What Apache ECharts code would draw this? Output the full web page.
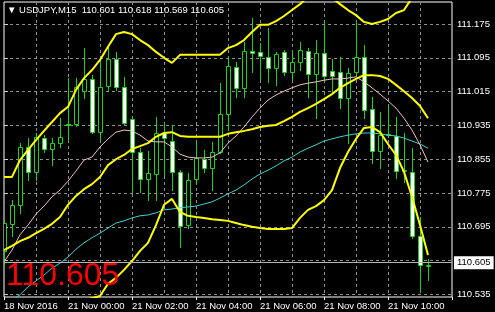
<!DOCTYPE html>
<html><head><meta charset="utf-8">
<script src="https://cdn.jsdelivr.net/npm/echarts@6/dist/echarts.min.js"></script>
<style>html,body{margin:0;padding:0;background:#000;}#c{width:495px;height:312px;}</style>
</head><body><div id="c"></div>
<script>
const symbolName = 'USDJPY,M15';
const opens  = [110.638,110.702,110.747,110.884,110.825,110.905,110.879,110.893,110.938,110.938,111.016,111.045,110.919,111.028,111.092,111.026,110.950,110.872,110.808,110.820,110.917,110.898,110.825,110.699,110.808,110.856,110.834,110.872,110.962,111.073,111.024,111.111,111.109,111.097,111.071,111.109,111.061,111.085,111.111,111.057,111.106,111.064,111.061,110.999,111.061,111.097,110.974,110.874,110.912,110.910,110.827,110.825,110.673,110.601];
const highs  = [110.708,110.758,110.893,110.905,110.917,110.912,110.905,110.953,111.047,111.047,111.118,111.054,111.095,111.121,111.109,111.050,110.955,110.882,110.874,110.955,110.943,110.936,110.829,110.822,110.900,110.877,110.896,111.035,111.097,111.085,111.132,111.189,111.130,111.166,111.109,111.114,111.109,111.132,111.118,111.137,111.180,111.092,111.097,111.071,111.180,111.125,111.002,110.967,110.983,110.955,110.917,110.882,110.718,110.618];
const lows   = [110.602,110.673,110.728,110.806,110.806,110.872,110.841,110.884,110.900,110.934,111.000,110.917,110.900,111.019,111.019,110.938,110.777,110.777,110.758,110.758,110.818,110.782,110.647,110.692,110.801,110.825,110.782,110.870,110.924,111.002,111.002,111.061,111.045,111.038,111.031,111.054,111.043,111.066,111.002,110.953,111.038,111.014,110.976,110.893,111.054,110.953,110.846,110.834,110.907,110.810,110.801,110.668,110.541,110.569];
const closes = [110.704,110.747,110.884,110.825,110.908,110.879,110.893,110.908,110.936,111.026,111.045,110.919,111.026,111.092,111.026,110.941,110.872,110.808,110.822,110.917,110.905,110.825,110.697,110.806,110.858,110.834,110.872,110.962,111.076,111.024,111.111,111.106,111.099,111.071,111.104,111.061,111.085,111.114,111.057,111.106,111.052,111.052,110.999,111.059,111.097,110.971,110.874,110.912,110.915,110.827,110.829,110.673,110.605,110.605];

const bbUpper  = [110.813,110.813,110.853,110.877,110.900,110.922,110.943,110.964,110.979,111.019,111.047,111.066,111.090,111.121,111.151,111.156,111.151,111.137,111.125,111.109,111.095,111.083,111.102,111.102,111.102,111.102,111.102,111.102,111.118,111.125,111.137,111.156,111.173,111.173,111.182,111.194,111.208,111.222,111.239,111.246,111.246,111.237,111.222,111.208,111.196,111.180,111.175,111.180,111.187,111.201,111.208,111.237,111.260,111.277];
const bbMiddle = [110.640,110.650,110.661,110.669,110.680,110.690,110.702,110.718,110.747,110.768,110.784,110.796,110.813,110.841,110.855,110.865,110.879,110.886,110.893,110.908,110.917,110.919,110.910,110.908,110.908,110.908,110.908,110.908,110.915,110.919,110.922,110.926,110.931,110.934,110.936,110.945,110.955,110.967,110.976,110.986,110.997,111.009,111.024,111.035,111.045,111.054,111.054,111.052,111.045,111.031,111.016,111.000,110.981,110.952];
const bbLower  = [110.467,110.486,110.470,110.460,110.460,110.458,110.460,110.472,110.515,110.517,110.522,110.526,110.531,110.560,110.574,110.593,110.614,110.638,110.657,110.699,110.747,110.761,110.730,110.721,110.718,110.716,110.713,110.711,110.709,110.704,110.699,110.695,110.692,110.690,110.690,110.690,110.692,110.716,110.735,110.744,110.758,110.782,110.834,110.872,110.903,110.929,110.931,110.919,110.891,110.865,110.825,110.766,110.699,110.628];
const maPink   = [110.612,110.640,110.676,110.699,110.725,110.744,110.766,110.782,110.803,110.827,110.853,110.860,110.884,110.903,110.919,110.924,110.922,110.912,110.898,110.896,110.896,110.884,110.867,110.860,110.858,110.858,110.860,110.870,110.893,110.910,110.931,110.955,110.976,110.995,111.007,111.016,111.024,111.031,111.035,111.038,111.042,111.045,111.045,111.047,111.050,111.038,111.024,111.009,110.993,110.976,110.952,110.924,110.889,110.848];
const maCyan   = [110.510,110.522,110.534,110.553,110.567,110.581,110.597,110.609,110.623,110.642,110.657,110.669,110.680,110.692,110.704,110.709,110.716,110.721,110.723,110.728,110.735,110.737,110.740,110.742,110.744,110.749,110.754,110.763,110.773,110.782,110.794,110.808,110.820,110.829,110.839,110.851,110.860,110.872,110.881,110.889,110.898,110.903,110.908,110.912,110.915,110.917,110.917,110.915,110.912,110.910,110.905,110.898,110.891,110.881];

const priceTicks = [110.535,110.615,110.695,110.775,110.855,110.935,111.015,111.095,111.175];
const timeTicks  = [0,8,16,24,32,40,48];
const timeLabels = ['18 Nov 2016','21 Nov 00:00','21 Nov 02:00','21 Nov 04:00','21 Nov 06:00','21 Nov 08:00','21 Nov 10:00'];

const green = '#1ed21e';
const FONT = 'Liberation Sans';
const last = opens.length - 1;
const candleData = opens.map((o,i)=>[i,o,highs[i],lows[i],closes[i]]);
const lineData = arr => arr.map((v,i)=>[i,v]);
const fmt = v => v.toFixed(3);

const chart = echarts.init(document.getElementById('c'), null, {renderer:'canvas', width:495, height:312});

function renderCandle(params, api){
  const i = api.value(0), o = api.value(1), h = api.value(2), l = api.value(3), c = api.value(4);
  const pO = api.coord([i,o]), pC = api.coord([i,c]), pH = api.coord([i,h]), pL = api.coord([i,l]);
  const x = Math.round(pO[0]);
  const yT = Math.round(Math.min(pO[1],pC[1])), yB = Math.round(Math.max(pO[1],pC[1]));
  const bull = c >= o;
  return {type:'group', children:[
    {type:'line', shape:{x1:x+0.5, y1:Math.round(pH[1]), x2:x+0.5, y2:Math.round(pL[1])+1}, style:{stroke:green, lineWidth:1}},
    {type:'rect', shape:{x:x-1.5, y:yT+0.5, width:4, height:Math.max(yB-yT,0)}, style:{fill: bull ? '#000' : '#fff', stroke:green, lineWidth:1}}
  ]};
}

const gridLine = {color:'#8e8e8e', type:[3,3], width:1};

const option = {
  backgroundColor:'#000',
  animation:false,
  grid:{left:4, right:43, top:2, bottom:15, show:true, borderColor:'#ffffff', borderWidth:1, backgroundColor:'#000'},
  xAxis:[
    {type:'value', min:0, max:56, interval:8, position:'bottom',
     axisLine:{show:false},
     axisTick:{show:true, length:3, lineStyle:{color:'#ffffff'}},
     axisLabel:{color:'#ffffff', fontSize:9.5, fontFamily:FONT, align:'left', margin:4,
       formatter: v => { const k = timeTicks.indexOf(v); return k >= 0 ? timeLabels[k] : ''; }},
     splitLine:{show:false}},
    {type:'value', min:0, max:56, interval:4, position:'top',
     axisLine:{show:false}, axisTick:{show:false}, axisLabel:{show:false},
     splitLine:{show:true, showMinLine:false, showMaxLine:false, lineStyle:gridLine}}
  ],
  yAxis:{type:'value', position:'right', min:110.5288, max:111.2271,
    axisLine:{show:false},
    axisTick:{show:true, length:4, customValues:priceTicks, lineStyle:{color:'#d0d0d0'}},
    axisLabel:{customValues:priceTicks, color:'#ffffff', fontSize:9.5, fontFamily:FONT, margin:5, formatter: fmt},
    splitLine:{show:true, lineStyle:gridLine}},
  series:[
    {type:'custom', name:'candles', xAxisIndex:0, renderItem:renderCandle, data:candleData, clip:true, z:2,
     encode:{x:0, y:[1,2,3,4]}},
    {type:'line', name:'MA long', data:lineData(maCyan), showSymbol:false, clip:true, z:3, lineStyle:{color:'#40d0d0', width:1}},
    {type:'line', name:'MA short', data:lineData(maPink), showSymbol:false, clip:true, z:3, lineStyle:{color:'#f0c0c8', width:1}},
    {type:'line', name:'BB upper', data:lineData(bbUpper), showSymbol:false, clip:true, z:4, lineStyle:{color:'#ffff00', width:2}},
    {type:'line', name:'BB middle', data:lineData(bbMiddle), showSymbol:false, clip:true, z:4, lineStyle:{color:'#ffff00', width:2}},
    {type:'line', name:'BB lower', data:lineData(bbLower), showSymbol:false, clip:true, z:4, lineStyle:{color:'#ffff00', width:2}},
    {type:'line', name:'bid', data:[], clip:false, z:5,
     markLine:{silent:true, symbol:['none','none'], animation:false,
       lineStyle:{color:'#b4b4b4', type:'solid', width:1},
       label:{show:true, position:'end', distance:2, formatter: fmt(closes[last]), backgroundColor:'#ffffff', color:'#000000',
              fontSize:9.5, fontFamily:FONT, padding:[2,3,1,3]},
       data:[{yAxis:closes[last]}]}}
  ],
  graphic:[
    {type:'text', left:7, top:5, z:10, style:{text:'\u25BC ' + symbolName + '  ' + [opens[last],highs[last],lows[last],closes[last]].map(fmt).join(' '),
      fill:'#ffffff', font:'9.5px "Liberation Sans"'}},
    {type:'text', left:6, top:260, z:10, style:{text: fmt(closes[last]), fill:'#ff0000', font:'32px "Liberation Sans"'}}
  ]
};
chart.setOption(option);
</script>
</body></html>
